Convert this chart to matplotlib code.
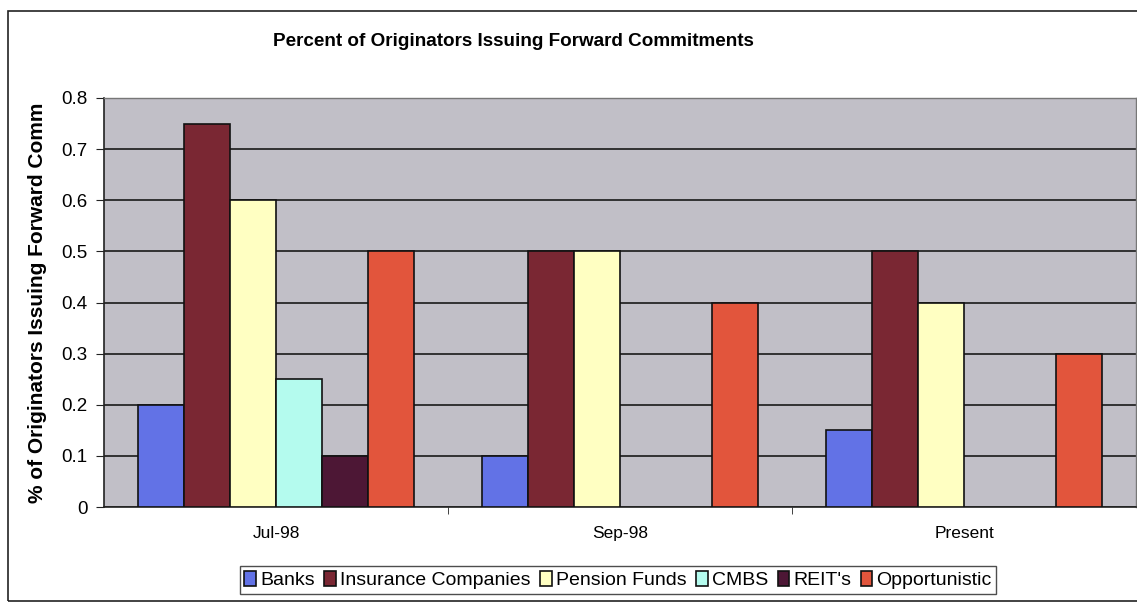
import matplotlib
matplotlib.use("Agg")
import matplotlib.pyplot as plt
import numpy as np
from matplotlib.patches import Rectangle

plt.rcParams['font.family'] = ['Liberation Sans', 'DejaVu Sans']

categories = ["Jul-98", "Sep-98", "Present"]
series_names = ["Banks", "Insurance Companies", "Pension Funds", "CMBS", "REIT's", "Opportunistic"]
banks = [0.2, 0.1, 0.15]
insurance = [0.75, 0.5, 0.5]
pension = [0.6, 0.5, 0.4]
cmbs = [0.25, np.nan, np.nan]
reits = [0.1, np.nan, np.nan]
opportunistic = [0.5, 0.4, 0.3]
yticks = [0, 0.1, 0.2, 0.3, 0.4, 0.5, 0.6, 0.7, 0.8]
ytick_labels = ["0", "0.1", "0.2", "0.3", "0.4", "0.5", "0.6", "0.7", "0.8"]

series = [banks, insurance, pension, cmbs, reits, opportunistic]
colors = ["#6272e6", "#7a2733", "#ffffc2", "#b4fbee", "#4d1735", "#e2553c"]

fig = plt.figure(figsize=(11.37, 6.03), dpi=100)
W, H = 1137, 603
# chart border
fig.patches.append(Rectangle((8 / W, 1 - 601 / H), 1.2, (601 - 11) / H,
                             transform=fig.transFigure, fill=False,
                             edgecolor="#222222", lw=1.2, zorder=0))

ax = fig.add_axes([104 / W, 1 - 507 / H, (1136 - 104) / W, (507 - 98) / H])
ax.set_facecolor("#c1bfc7")

n = len(series)
gap = 1.5
bw = 1.0 / (n + gap)
x = np.arange(len(categories))
for i, (vals, c, name) in enumerate(zip(series, colors, series_names)):
    offs = (i - (n - 1) / 2) * bw
    ax.bar(x + offs, vals, width=bw, color=c, edgecolor="#111111",
           linewidth=1.2, label=name, zorder=3)

ax.set_xlim(-0.5, len(categories) - 0.5)
ax.set_ylim(0, 0.8)
ax.set_yticks(yticks)
ax.set_yticklabels(ytick_labels, fontsize=13.5)
ax.yaxis.grid(True, color="#1a1a1a", lw=1.2, zorder=1)
ax.set_axisbelow(True)
ax.set_xticks(x)
ax.set_xticklabels(categories, fontsize=12.5)
ax.tick_params(axis='x', length=0, pad=14)
ax.set_xticks([0.5, 1.5], minor=True)
ax.tick_params(axis='x', which='minor', length=5, direction='out', color="#222222")
ax.tick_params(axis='y', length=6, direction='out', color="#222222", pad=6)
for s in ["top", "right"]:
    ax.spines[s].set_color("#777777")
    ax.spines[s].set_linewidth(1.0)
for s in ["left", "bottom"]:
    ax.spines[s].set_color("#222222")
    ax.spines[s].set_linewidth(1.2)

ax.set_ylabel("% of Originators Issuing Forward Comm", fontsize=15,
              fontweight="bold", labelpad=10)

fig.text(513 / W, 1 - 42 / H, "Percent of Originators Issuing Forward Commitments",
         ha="center", va="center", fontsize=13.6, fontweight="bold")

leg = fig.legend(loc="center", bbox_to_anchor=(618 / W, 1 - 580 / H), ncol=6,
                 fontsize=14, frameon=True, fancybox=False, edgecolor="#222222",
                 handlelength=0.6, handleheight=0.8, handletextpad=0.2,
                 columnspacing=0.5, borderpad=0.25, borderaxespad=0)
leg.get_frame().set_linewidth(1.0)

fig.savefig("out.png", dpi=100)
